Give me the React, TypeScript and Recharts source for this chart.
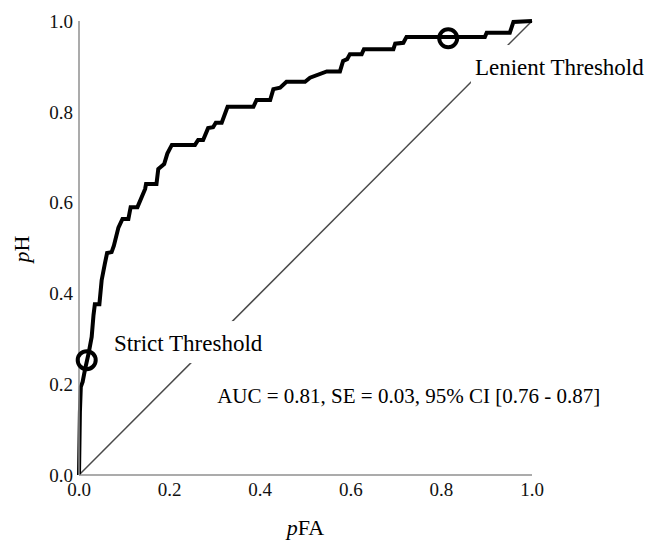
import React from "react";
import { ComposedChart, Line, Scatter, XAxis, YAxis, Label } from "recharts";

// ROC curve vertices (pFA, pH)
const rocFA = [
  0, 0.002, 0.004, 0.008, 0.013, 0.021, 0.028, 0.032, 0.035, 0.045, 0.05, 0.057, 0.062, 0.072, 0.077,
  0.087, 0.096, 0.109, 0.114, 0.129, 0.146, 0.148, 0.171, 0.175, 0.188, 0.195, 0.205, 0.256, 0.263,
  0.274, 0.285, 0.296, 0.302, 0.315, 0.328, 0.385, 0.392, 0.422, 0.429, 0.444, 0.458, 0.499, 0.51,
  0.547, 0.576, 0.583, 0.592, 0.598, 0.624, 0.629, 0.694, 0.698, 0.716, 0.723, 0.896, 0.9, 0.951,
  0.959, 1.0,
];
const rocH = [
  0, 0.139, 0.194, 0.205, 0.231, 0.267, 0.304, 0.352, 0.376, 0.376, 0.429, 0.465, 0.489, 0.491, 0.505,
  0.545, 0.564, 0.564, 0.59, 0.59, 0.63, 0.641, 0.641, 0.674, 0.685, 0.708, 0.727, 0.727, 0.738,
  0.738, 0.764, 0.766, 0.776, 0.776, 0.811, 0.811, 0.826, 0.826, 0.85, 0.853, 0.866, 0.866, 0.875,
  0.889, 0.889, 0.912, 0.916, 0.927, 0.927, 0.938, 0.938, 0.95, 0.952, 0.965, 0.965, 0.974, 0.974,
  0.998, 1.0,
];

// chance diagonal
const chanceFA = [0, 1];
const chanceH = [0, 1];

// threshold markers
const thresholdNames = ["Strict", "Lenient"];
const thresholdFA = [0.017, 0.815];
const thresholdH = [0.253, 0.962];

// annotations (anchor = start of text baseline, in data units)
const noteText = [
  "Strict Threshold",
  "Lenient Threshold",
  "AUC = 0.81, SE = 0.03, 95% CI [0.76 - 0.87]",
];
const noteFA = [0.077, 0.874, 0.305];
const noteH = [0.273, 0.881, 0.158];

const ticks = [0, 0.2, 0.4, 0.6, 0.8, 1.0];

const rocData = rocFA.map((x, i) => ({ x, y: rocH[i] }));
const chanceData = chanceFA.map((x, i) => ({ x, y: chanceH[i] }));
const thresholdData = thresholdFA.map((x, i) => ({ x, y: thresholdH[i], name: thresholdNames[i] }));
const noteData = noteFA.map((x, i) => ({ x, y: noteH[i], text: noteText[i], idx: i }));

const FONT = "'Liberation Serif', 'Times New Roman', serif";
const noteSizes = [23, 23, 21];

function measure(text: string, size: number) {
  try {
    const c = document.createElement("canvas").getContext("2d");
    if (c) {
      c.font = `${size}px 'Liberation Serif'`;
      return c.measureText(text).width;
    }
  } catch (e) {}
  return text.length * size * 0.45;
}

const NoteShape = (props: any) => {
  const { cx, cy, payload } = props;
  const size = noteSizes[payload.idx];
  const w = measure(payload.text, size);
  return (
    <g>
      <rect x={cx - 4} y={cy - 30} width={w + 8} height={42} fill="#fff" />
      <text x={cx} y={cy} fontFamily={FONT} fontSize={size} fill="#000">
        {payload.text}
      </text>
    </g>
  );
};

const MarkerShape = (props: any) => {
  const { cx, cy } = props;
  return <circle cx={cx} cy={cy} r={9} fill="none" stroke="#000" strokeWidth={4} />;
};

const YTitle = (props: any) => {
  const vb = props.viewBox || { x: 0, y: 21, width: 79, height: 454 };
  const cx = vb.x + 29;
  const cy = vb.y + vb.height / 2 + 1;
  return (
    <text
      x={cx}
      y={cy}
      transform={`rotate(-90 ${cx} ${cy})`}
      textAnchor="middle"
      fontFamily={FONT}
      fontSize={22}
      fill="#000"
    >
      <tspan fontStyle="italic">p</tspan>
      <tspan>H</tspan>
    </text>
  );
};

const XTitle = (props: any) => {
  const vb = props.viewBox || { x: 79, y: 475, width: 453, height: 67 };
  const cx = vb.x + vb.width / 2;
  const cy = vb.y + 60;
  return (
    <text x={cx} y={cy} textAnchor="middle" fontFamily={FONT} fontSize={22} fill="#000">
      <tspan fontStyle="italic">p</tspan>
      <tspan>FA</tspan>
    </text>
  );
};

export default function App() {
  const tickStyle = { fontFamily: FONT, fontSize: 19, fill: "#111" };
  return (
    <div style={{ position: "absolute", left: 0, top: 0, width: 649, height: 542, background: "#fff" }}>
      <ComposedChart
        width={649}
        height={542}
        margin={{ top: 21, right: 117, bottom: 0, left: 0 }}
      >
        <XAxis
          dataKey="x"
          type="number"
          domain={[0, 1]}
          ticks={ticks}
          tickFormatter={(v: number) => v.toFixed(1)}
          tick={tickStyle}
          tickLine={false}
          tickSize={0}
          tickMargin={8}
          height={67}
          axisLine={{ stroke: "#8f8f8f", strokeWidth: 1.5 }}
        >
          <Label content={<XTitle />} />
        </XAxis>
        <YAxis
          dataKey="y"
          type="number"
          domain={[0, 1]}
          ticks={ticks}
          tickFormatter={(v: number) => v.toFixed(1)}
          tick={tickStyle}
          tickLine={false}
          tickSize={0}
          tickMargin={6}
          width={79}
          axisLine={{ stroke: "#8f8f8f", strokeWidth: 1.5 }}
        >
          <Label content={<YTitle />} />
        </YAxis>
        <Line
          data={chanceData}
          dataKey="y"
          type="linear"
          stroke="#4a4a4a"
          strokeWidth={1.5}
          dot={false}
          activeDot={false}
          isAnimationActive={false}
        />
        <Scatter data={noteData} dataKey="y" shape={<NoteShape />} isAnimationActive={false} />
        <Line
          data={rocData}
          dataKey="y"
          type="linear"
          stroke="#000"
          strokeWidth={4}
          dot={false}
          activeDot={false}
          isAnimationActive={false}
        />
        <Scatter data={thresholdData} dataKey="y" shape={<MarkerShape />} isAnimationActive={false} />
      </ComposedChart>
    </div>
  );
}
